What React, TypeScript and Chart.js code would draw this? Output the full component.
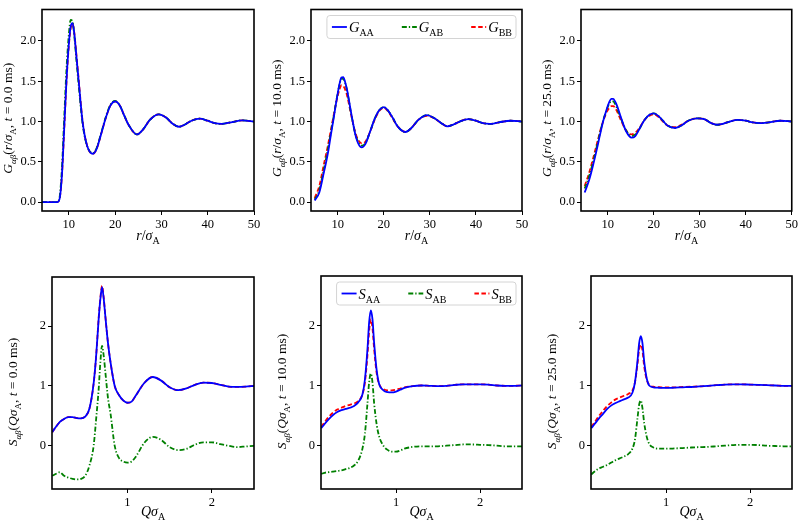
import { useEffect, useRef } from 'react';
import { Chart, registerables } from 'chart.js';
Chart.register(...registerables);

// ---------------- DATA ----------------
const rT0 = [4.2, 5, 6, 7, 7.5, 8, 8.5, 9, 9.5, 10, 10.4, 10.8, 11.2, 11.6, 12, 13, 14, 15.2, 16, 17, 18, 19, 20, 21, 22, 23, 24.7, 26, 27.5, 29.4, 31, 32.5, 33.8, 35, 36.5, 38.3, 40, 41.5, 43, 45, 47.5, 50];
const rLate = [5, 6, 7, 7.5, 8, 8.5, 9, 9.5, 10, 10.4, 10.8, 11.2, 11.6, 12, 13, 14, 15.2, 16, 17, 18, 19, 20, 21, 22, 23, 24.7, 26, 27.5, 29.4, 31, 32.5, 33.8, 35, 36.5, 38.3, 40, 41.5, 43, 45, 47.5, 50];

const gAA_t0 = [0, 0, 0, 0, 0, 0.04, 0.33, 0.92, 1.52, 1.96, 2.18, 2.22, 2.08, 1.83, 1.58, 0.98, 0.69, 0.6, 0.66, 0.85, 1.05, 1.2, 1.25, 1.2, 1.07, 0.95, 0.84, 0.9, 1.02, 1.09, 1.05, 0.97, 0.935, 0.96, 1.01, 1.035, 1.01, 0.98, 0.97, 0.99, 1.015, 1.0];
const gAB_t0 = [0, 0, 0, 0, 0, 0.06, 0.42, 1.05, 1.66, 2.08, 2.26, 2.24, 2.05, 1.78, 1.53, 0.96, 0.69, 0.61, 0.67, 0.86, 1.06, 1.21, 1.255, 1.2, 1.07, 0.95, 0.84, 0.9, 1.02, 1.09, 1.05, 0.97, 0.935, 0.96, 1.01, 1.035, 1.01, 0.98, 0.97, 0.99, 1.015, 1.0];
const gBB_t0 = [0, 0, 0, 0, 0, 0.04, 0.33, 0.9, 1.5, 1.94, 2.16, 2.21, 2.09, 1.85, 1.6, 0.99, 0.69, 0.6, 0.66, 0.85, 1.05, 1.2, 1.25, 1.2, 1.07, 0.95, 0.84, 0.9, 1.02, 1.09, 1.05, 0.97, 0.935, 0.96, 1.01, 1.035, 1.01, 0.98, 0.97, 0.99, 1.015, 1.0];

const gAA_t10 = [0.02, 0.12, 0.37, 0.5, 0.65, 0.83, 1.0, 1.18, 1.35, 1.47, 1.545, 1.55, 1.49, 1.4, 1.08, 0.8, 0.68, 0.72, 0.87, 1.03, 1.14, 1.18, 1.13, 1.04, 0.94, 0.87, 0.92, 1.02, 1.08, 1.04, 0.98, 0.94, 0.96, 1.0, 1.03, 1.01, 0.98, 0.97, 0.99, 1.01, 1.0];
const gAB_t10 = [0.03, 0.15, 0.41, 0.55, 0.7, 0.86, 1.02, 1.19, 1.35, 1.46, 1.53, 1.53, 1.48, 1.39, 1.07, 0.81, 0.7, 0.73, 0.87, 1.03, 1.14, 1.18, 1.13, 1.04, 0.94, 0.87, 0.92, 1.02, 1.08, 1.04, 0.98, 0.94, 0.96, 1.0, 1.03, 1.01, 0.98, 0.97, 0.99, 1.01, 1.0];
const gBB_t10 = [0.05, 0.2, 0.47, 0.6, 0.74, 0.89, 1.04, 1.19, 1.32, 1.4, 1.45, 1.44, 1.4, 1.33, 1.06, 0.83, 0.73, 0.75, 0.87, 1.02, 1.13, 1.17, 1.12, 1.03, 0.94, 0.87, 0.92, 1.02, 1.07, 1.04, 0.98, 0.94, 0.96, 1.0, 1.03, 1.01, 0.98, 0.97, 0.99, 1.01, 1.0];

const gAA_t25 = [0.12, 0.28, 0.5, 0.62, 0.75, 0.88, 1.0, 1.1, 1.19, 1.25, 1.28, 1.28, 1.25, 1.2, 1.03, 0.88, 0.8, 0.82, 0.92, 1.02, 1.08, 1.1, 1.07, 1.01, 0.95, 0.92, 0.95, 1.01, 1.04, 1.03, 0.98, 0.96, 0.97, 1.0, 1.02, 1.01, 0.99, 0.98, 0.99, 1.01, 1.0];
const gAB_t25 = [0.17, 0.33, 0.54, 0.66, 0.78, 0.9, 1.01, 1.1, 1.18, 1.23, 1.25, 1.25, 1.22, 1.17, 1.02, 0.89, 0.82, 0.84, 0.92, 1.02, 1.08, 1.1, 1.07, 1.01, 0.95, 0.92, 0.95, 1.01, 1.04, 1.03, 0.98, 0.96, 0.97, 1.0, 1.02, 1.01, 0.99, 0.98, 0.99, 1.01, 1.0];
const gBB_t25 = [0.2, 0.37, 0.58, 0.69, 0.8, 0.91, 1.0, 1.08, 1.14, 1.17, 1.19, 1.19, 1.17, 1.13, 1.0, 0.89, 0.84, 0.86, 0.93, 1.02, 1.07, 1.09, 1.06, 1.0, 0.95, 0.93, 0.96, 1.01, 1.04, 1.03, 0.98, 0.96, 0.97, 1.0, 1.02, 1.01, 0.99, 0.98, 0.99, 1.01, 1.0];

const qGrid = [0.11, 0.15, 0.2, 0.25, 0.3, 0.35, 0.4, 0.45, 0.5, 0.55, 0.6, 0.63, 0.66, 0.68, 0.7, 0.72, 0.74, 0.77, 0.8, 0.85, 0.9, 0.95, 1.0, 1.05, 1.1, 1.2, 1.3, 1.4, 1.5, 1.6, 1.7, 1.8, 1.9, 2.0, 2.1, 2.2, 2.3, 2.4, 2.5];

const sAA_t0 = [0.23, 0.31, 0.4, 0.45, 0.48, 0.48, 0.465, 0.46, 0.49, 0.62, 1.04, 1.5, 2.12, 2.45, 2.65, 2.45, 2.15, 1.72, 1.4, 1.0, 0.85, 0.76, 0.72, 0.74, 0.84, 1.05, 1.15, 1.09, 0.98, 0.93, 0.96, 1.02, 1.055, 1.05, 1.02, 0.99, 0.985, 0.99, 1.0];
const sAB_t0 = [-0.5, -0.47, -0.44, -0.5, -0.53, -0.55, -0.56, -0.55, -0.5, -0.33, 0.0, 0.45, 0.95, 1.4, 1.67, 1.5, 1.22, 0.8, 0.54, 0.0, -0.2, -0.26, -0.28, -0.26, -0.18, 0.05, 0.15, 0.1, -0.02, -0.07, -0.05, 0.02, 0.06, 0.06, 0.03, 0.0, -0.02, -0.01, 0.0];
const sBB_t0 = [0.23, 0.31, 0.4, 0.45, 0.48, 0.48, 0.465, 0.46, 0.49, 0.62, 1.04, 1.5, 2.14, 2.47, 2.67, 2.47, 2.15, 1.72, 1.4, 1.0, 0.85, 0.76, 0.72, 0.74, 0.84, 1.05, 1.15, 1.09, 0.98, 0.93, 0.96, 1.02, 1.055, 1.05, 1.02, 0.99, 0.985, 0.99, 1.0];

const sAA_t10 = [0.29, 0.36, 0.44, 0.51, 0.56, 0.59, 0.61, 0.63, 0.66, 0.72, 0.85, 1.1, 1.6, 2.05, 2.25, 2.1, 1.7, 1.25, 1.02, 0.92, 0.89, 0.885, 0.9, 0.93, 0.96, 0.99, 1.0, 0.995, 0.99, 0.995, 1.01, 1.02, 1.02, 1.02, 1.015, 1.0, 0.995, 0.995, 1.0];
const sAB_t10 = [-0.47, -0.45, -0.44, -0.43, -0.42, -0.41, -0.39, -0.37, -0.33, -0.25, -0.05, 0.2, 0.7, 1.05, 1.2, 1.05, 0.7, 0.35, 0.15, 0.0, -0.07, -0.1, -0.1, -0.08, -0.05, -0.02, -0.01, -0.01, -0.01, 0.0, 0.01, 0.02, 0.02, 0.015, 0.01, 0.0, -0.01, -0.01, -0.01];
const sBB_t10 = [0.31, 0.39, 0.48, 0.55, 0.6, 0.63, 0.66, 0.68, 0.7, 0.74, 0.85, 1.05, 1.5, 1.9, 2.1, 1.95, 1.6, 1.2, 1.02, 0.94, 0.92, 0.92, 0.93, 0.95, 0.97, 0.99, 1.0, 0.995, 0.99, 0.995, 1.01, 1.02, 1.02, 1.02, 1.015, 1.0, 0.995, 0.995, 1.0];

const sAA_t25 = [0.29, 0.36, 0.45, 0.53, 0.61, 0.67, 0.71, 0.74, 0.77, 0.8, 0.88, 1.05, 1.4, 1.7, 1.82, 1.7, 1.4, 1.12, 1.0, 0.97, 0.965, 0.96, 0.96, 0.96, 0.965, 0.97, 0.975, 0.985, 0.995, 1.005, 1.015, 1.02, 1.02, 1.015, 1.01, 1.005, 1.0, 0.995, 0.995];
const sAB_t25 = [-0.48, -0.43, -0.38, -0.35, -0.32, -0.28, -0.24, -0.21, -0.18, -0.14, -0.05, 0.1, 0.45, 0.68, 0.75, 0.62, 0.38, 0.15, 0.03, -0.03, -0.05, -0.05, -0.05, -0.05, -0.045, -0.04, -0.03, -0.025, -0.02, -0.01, 0.0, 0.01, 0.015, 0.015, 0.01, 0.0, -0.005, -0.01, -0.01];
const sBB_t25 = [0.31, 0.39, 0.49, 0.58, 0.66, 0.72, 0.77, 0.8, 0.83, 0.86, 0.92, 1.05, 1.35, 1.6, 1.68, 1.58, 1.32, 1.1, 1.01, 0.98, 0.975, 0.97, 0.97, 0.97, 0.97, 0.975, 0.98, 0.985, 0.995, 1.005, 1.015, 1.02, 1.02, 1.015, 1.01, 1.005, 1.0, 0.995, 0.995];

const rTicks = [10, 20, 30, 40, 50];
const gTicks = [0, 0.5, 1.0, 1.5, 2.0];
const qTicks = [1, 2];
const sTicks = [0, 1, 2];
const times = ['0.0', '10.0', '25.0'];

// ---------------- DRAWING ----------------
const FONT = '"Liberation Serif", "DejaVu Serif", serif';
const BLUE = '#0000ff';
const GREEN = '#008000';
const RED = '#ff0000';
const DASH_AB = [5, 2, 1.3, 2];
const DASH_BB = [4.5, 2.5];

type Seg = { t: string; it?: boolean; sub?: boolean };

function fontFor(s: Seg, size: number) {
  return `${s.it ? 'italic ' : ''}${s.sub ? Math.round(size * 0.7) : size}px ${FONT}`;
}
function measureRich(ctx: CanvasRenderingContext2D, segs: Seg[], size: number) {
  let w = 0;
  for (const s of segs) {
    ctx.font = fontFor(s, size);
    w += ctx.measureText(s.t).width;
  }
  return w;
}
function drawRich(ctx: CanvasRenderingContext2D, segs: Seg[], x: number, y: number, size: number, rotate: boolean, align: 'center' | 'left') {
  ctx.save();
  ctx.translate(x, y);
  if (rotate) ctx.rotate(-Math.PI / 2);
  const total = measureRich(ctx, segs, size);
  let cx = align === 'center' ? -total / 2 : 0;
  ctx.fillStyle = '#000';
  ctx.textBaseline = 'alphabetic';
  ctx.textAlign = 'left';
  for (const s of segs) {
    ctx.font = fontFor(s, size);
    ctx.fillText(s.t, cx, s.sub ? size * 0.28 : 0);
    cx += ctx.measureText(s.t).width;
  }
  ctx.restore();
}

type Series = { x: number[]; y: number[]; color: string; dash: number[] };
type Panel = {
  key: string;
  cell: { left: number; top: number; width: number; height: number };
  plot: { left: number; top: number; right: number; bottom: number };
  xMin: number; xMax: number; yMin: number; yMax: number;
  xTicks: number[]; yTicks: number[]; yDec: number;
  series: Series[];
  xTitle: Seg[]; yTitle: Seg[];
  xTitleOff: number; yTitleOff: number; yTitleShift: number;
  legend?: Seg[][];
};

const gTitle = (t: string): Seg[] => [
  { t: 'G', it: true }, { t: 'αβ', it: true, sub: true }, { t: '(' }, { t: 'r', it: true }, { t: '/' },
  { t: 'σ', it: true }, { t: 'A', sub: true }, { t: ', ' }, { t: 't', it: true }, { t: ' = ' + t + ' ms)' },
];
const sTitle = (t: string): Seg[] => [
  { t: 'S', it: true }, { t: 'αβ', it: true, sub: true }, { t: '(' }, { t: 'Q', it: true },
  { t: 'σ', it: true }, { t: 'A', sub: true }, { t: ', ' }, { t: 't', it: true }, { t: ' = ' + t + ' ms)' },
];
const rTitle: Seg[] = [{ t: 'r', it: true }, { t: '/' }, { t: 'σ', it: true }, { t: 'A', sub: true }];
const qTitle: Seg[] = [{ t: 'Q', it: true }, { t: 'σ', it: true }, { t: 'A', sub: true }];
const gLegend: Seg[][] = [
  [{ t: 'G', it: true }, { t: 'AA', sub: true }],
  [{ t: 'G', it: true }, { t: 'AB', sub: true }],
  [{ t: 'G', it: true }, { t: 'BB', sub: true }],
];
const sLegend: Seg[][] = [
  [{ t: 'S', it: true }, { t: 'AA', sub: true }],
  [{ t: 'S', it: true }, { t: 'AB', sub: true }],
  [{ t: 'S', it: true }, { t: 'BB', sub: true }],
];
const styles = [
  { color: BLUE, dash: [] as number[] },
  { color: GREEN, dash: DASH_AB },
  { color: RED, dash: DASH_BB },
];

const mk = (x: number[], ys: number[][]): Series[] => ys.map((y, i) => ({ x, y, ...styles[i] }));

const cols = [
  { left: 0, width: 270 },
  { left: 270, width: 270 },
  { left: 540, width: 260 },
];
const topPlots = [
  { left: 42, right: 254 },
  { left: 311, right: 522 },
  { left: 581, right: 792 },
];
const botPlots = [
  { left: 52, right: 254 },
  { left: 321, right: 522 },
  { left: 591, right: 792 },
];
const gSets = [
  mk(rT0, [gAA_t0, gAB_t0, gBB_t0]),
  mk(rLate, [gAA_t10, gAB_t10, gBB_t10]),
  mk(rLate, [gAA_t25, gAB_t25, gBB_t25]),
];
const sSets = [
  mk(qGrid, [sAA_t0, sAB_t0, sBB_t0]),
  mk(qGrid, [sAA_t10, sAB_t10, sBB_t10]),
  mk(qGrid, [sAA_t25, sAB_t25, sBB_t25]),
];

const panels: Panel[] = [];
for (let i = 0; i < 3; i++) {
  panels.push({
    key: 'g' + i,
    cell: { left: cols[i].left, top: 0, width: cols[i].width, height: 260 },
    plot: { left: topPlots[i].left, right: topPlots[i].right, top: 3, bottom: 211 },
    xMin: 4.2, xMax: 50, yMin: -0.11, yMax: 2.39,
    xTicks: rTicks, yTicks: gTicks, yDec: 1,
    series: gSets[i],
    xTitle: rTitle, yTitle: gTitle(times[i]), xTitleOff: 29, yTitleOff: 30, yTitleShift: 8,
    legend: i === 1 ? gLegend : undefined,
  });
}
for (let i = 0; i < 3; i++) {
  panels.push({
    key: 's' + i,
    cell: { left: cols[i].left, top: 260, width: cols[i].width, height: 262 },
    plot: { left: botPlots[i].left, right: botPlots[i].right, top: i === 0 ? 277 : 276, bottom: 489 },
    xMin: 0.107, xMax: 2.5, yMin: -0.72, yMax: 2.82,
    xTicks: qTicks, yTicks: sTicks, yDec: 0,
    series: sSets[i],
    xTitle: qTitle, yTitle: sTitle(times[i]), xTitleOff: 27, yTitleOff: 35, yTitleShift: 9,
    legend: i === 1 ? sLegend : undefined,
  });
}

function PanelChart({ p }: { p: Panel }) {
  const ref = useRef<HTMLCanvasElement | null>(null);
  useEffect(() => {
    if (!ref.current) return;
    const yAxisW = p.plot.left - p.cell.left;
    const xAxisH = p.cell.top + p.cell.height - p.plot.bottom;
    const padTop = p.plot.top - p.cell.top;
    const padRight = p.cell.left + p.cell.width - p.plot.right;
    const deco = {
      id: 'deco' + p.key,
      afterDraw(chart: any) {
        const ctx: CanvasRenderingContext2D = chart.ctx;
        const a = chart.chartArea;
        // legend
        if (p.legend) {
          const size = 14.5;
          const boxTop = a.top + 6;
          const boxH = 23;
          const handle = 15;
          const gapText = 2;
          const colGap = 28;
          const widths = p.legend.map((l) => measureRich(ctx, l, size));
          const total = 5 + widths.reduce((s, w) => s + handle + gapText + w, 0) + colGap * 2 + 4;
          const boxRight = a.right - 6;
          const boxLeft = boxRight - total;
          ctx.save();
          ctx.beginPath();
          const r = 3;
          ctx.moveTo(boxLeft + r, boxTop);
          ctx.arcTo(boxRight, boxTop, boxRight, boxTop + boxH, r);
          ctx.arcTo(boxRight, boxTop + boxH, boxLeft, boxTop + boxH, r);
          ctx.arcTo(boxLeft, boxTop + boxH, boxLeft, boxTop, r);
          ctx.arcTo(boxLeft, boxTop, boxRight, boxTop, r);
          ctx.closePath();
          ctx.fillStyle = 'rgba(255,255,255,0.8)';
          ctx.fill();
          ctx.strokeStyle = '#d4d4d4';
          ctx.lineWidth = 1;
          ctx.stroke();
          let x = boxLeft + 5;
          const cy = boxTop + boxH / 2;
          p.legend.forEach((l, i) => {
            const st = styles[i];
            ctx.beginPath();
            ctx.setLineDash(st.dash);
            ctx.strokeStyle = st.color;
            ctx.lineWidth = 1.8;
            ctx.moveTo(x, cy);
            ctx.lineTo(x + handle, cy);
            ctx.stroke();
            ctx.setLineDash([]);
            drawRich(ctx, l, x + handle + gapText, cy + 5, size, false, 'left');
            x += handle + gapText + widths[i] + colGap;
          });
          ctx.restore();
        }
        // frame
        ctx.save();
        ctx.strokeStyle = '#000';
        ctx.lineWidth = 1.6;
        ctx.strokeRect(a.left, a.top, a.right - a.left, a.bottom - a.top);
        ctx.restore();
        // titles
        drawRich(ctx, p.xTitle, (a.left + a.right) / 2, a.bottom + p.xTitleOff, 14, false, 'center');
        drawRich(ctx, p.yTitle, a.left - p.yTitleOff, (a.top + a.bottom) / 2 + p.yTitleShift, 13.5, true, 'center');
      },
    };
    const chart = new Chart(ref.current, {
      type: 'line',
      data: {
        datasets: p.series.map((s) => ({
          data: s.x.map((x, i) => ({ x, y: s.y[i] })),
          borderColor: s.color,
          borderDash: s.dash,
          borderWidth: 1.8,
          pointRadius: 0,
          fill: false,
          cubicInterpolationMode: 'monotone' as const,
        })),
      },
      options: {
        responsive: false,
        animation: false,
        layout: { padding: { top: padTop, right: padRight, left: 0, bottom: 0 } },
        plugins: { legend: { display: false }, tooltip: { enabled: false } },
        scales: {
          x: {
            type: 'linear',
            min: p.xMin,
            max: p.xMax,
            afterBuildTicks: (s: any) => { s.ticks = p.xTicks.map((v) => ({ value: v })); },
            afterFit: (s: any) => { s.height = xAxisH; },
            grid: { drawOnChartArea: false, drawTicks: true, tickLength: 4, color: '#000', lineWidth: 1 },
            border: { display: false },
            ticks: { color: '#000', font: { family: FONT, size: 12.5 }, padding: 2, maxRotation: 0, autoSkip: false },
          },
          y: {
            type: 'linear',
            min: p.yMin,
            max: p.yMax,
            afterBuildTicks: (s: any) => { s.ticks = p.yTicks.map((v) => ({ value: v })); },
            afterFit: (s: any) => { s.width = yAxisW; },
            grid: { drawOnChartArea: false, drawTicks: true, tickLength: 4, color: '#000', lineWidth: 1 },
            border: { display: false },
            ticks: {
              color: '#000', font: { family: FONT, size: 12.5 }, padding: 2, autoSkip: false,
              callback: (v: any) => Number(v).toFixed(p.yDec),
            },
          },
        },
      },
      plugins: [deco],
    } as any);
    return () => chart.destroy();
  }, [p]);
  return (
    <div style={{ position: 'absolute', left: p.cell.left, top: p.cell.top, width: p.cell.width, height: p.cell.height }}>
      <canvas ref={ref} width={p.cell.width} height={p.cell.height} style={{ display: 'block' }} />
    </div>
  );
}

export default function App() {
  return (
    <div style={{ position: 'fixed', left: 0, top: 0, width: 800, height: 522, background: '#fff', overflow: 'hidden' }}>
      {panels.map((p) => (
        <PanelChart key={p.key} p={p} />
      ))}
    </div>
  );
}
